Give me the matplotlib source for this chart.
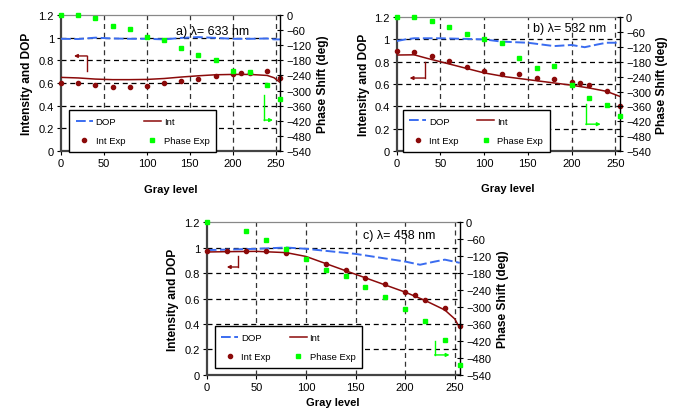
import numpy as np
import matplotlib
matplotlib.use("Agg")
import matplotlib.pyplot as plt
from matplotlib.lines import Line2D

plt.rcParams['font.family'] = ['Liberation Sans', 'DejaVu Sans']
plt.rcParams['font.size'] = 8

# Data -------------------------------------------------------------------------
gray_exp = [0, 20, 40, 60, 80, 100, 120, 140, 160, 180, 200, 210, 220, 240, 255]
gray_phase = [0, 20, 40, 60, 80, 100, 120, 140, 160, 180, 200, 220, 240, 255]

# a) 633 nm
a_int_exp = [0.60, 0.60, 0.58, 0.565, 0.565, 0.575, 0.60, 0.62, 0.64, 0.66,
             0.68, 0.69, 0.69, 0.705, 0.647]
a_phase_exp = [0, 0, -12, -45, -54, -88, -98, -132, -158, -180, -222, -227,
               -277, -335]
a_gray_fit = [0, 20, 40, 60, 80, 100, 120, 140, 160, 180, 200, 220, 240, 248,
              255]
a_int_fit = [0.65, 0.645, 0.635, 0.63, 0.63, 0.632, 0.64, 0.653, 0.664, 0.673,
             0.676, 0.676, 0.667, 0.647, 0.606]
a_dop = [0.99, 0.988, 1.0, 0.993, 0.99, 0.99, 0.985, 0.998, 1.005, 0.998,
         0.99, 0.99, 0.993, 0.985, 0.985]

# b) 532 nm
b_int_exp = [0.893, 0.884, 0.851, 0.806, 0.755, 0.719, 0.687, 0.687, 0.654,
             0.648, 0.621, 0.606, 0.588, 0.54, 0.40]
b_phase_exp = [0, 0, -17, -39, -70, -87, -105, -164, -204, -199, -274, -327,
               -353, -399]
b_gray_fit = [0, 20, 35, 50, 75, 100, 125, 150, 175, 200, 220, 240, 255]
b_int_fit = [0.86, 0.862, 0.83, 0.80, 0.75, 0.70, 0.665, 0.64, 0.615, 0.59,
             0.565, 0.535, 0.49]
b_gray_dop = [0, 10, 20, 35, 50, 75, 100, 120, 150, 170, 180, 200, 215, 230,
              240, 255]
b_dop = [0.985, 1.0, 1.01, 1.01, 1.01, 1.005, 1.0, 0.98, 0.97, 0.95, 0.94,
         0.95, 0.93, 0.955, 0.97, 0.97]

# c) 458 nm
c_int_exp = [0.975, 0.975, 0.975, 0.975, 0.956, None, 0.867, 0.823, 0.76,
             0.71, 0.65, 0.626, 0.592, 0.527, 0.388]
c_phase_exp = [0, None, -30, -64, -95, -130, -169, -190, -228, -265, -307,
               -350, -417, -504]
c_gray_fit = [0, 25, 50, 80, 100, 125, 150, 175, 200, 220, 240, 250, 255]
c_int_fit = [0.965, 0.968, 0.97, 0.96, 0.93, 0.86, 0.79, 0.72, 0.65, 0.585,
             0.51, 0.44, 0.37]
c_gray_dop = [0, 25, 50, 80, 100, 125, 150, 175, 200, 215, 230, 240, 255]
c_dop = [0.98, 0.985, 0.99, 1.0, 0.99, 0.97, 0.95, 0.92, 0.89, 0.865, 0.89,
         0.905, 0.88]

labels = ["a) \u03bb= 633 nm", "b) \u03bb= 532 nm", "c) \u03bb= 458 nm"]

# Colours / styles -------------------------------------------------------------
C_DOP = '#3a6cf0'
C_INT = '#8b0a0a'
C_PH = '#00ff00'
DOP_DASH = (5, 1.8)

fig = plt.figure(figsize=(6.78, 4.10), dpi=100)


def draw_panel(rect, gray_fit, int_fit, gray_dop, dop, int_exp, phase_exp,
               label, label_pos, leg_xy, lab_xy, arr_int, arr_ph):
    ax = fig.add_axes(rect)
    ax.set_xlim(0, 255)
    ax.set_ylim(0, 1.2)
    ax.set_xticks(range(0, 251, 50))
    yt = np.round(np.arange(0, 1.21, 0.2), 1)
    ax.set_yticks(yt)
    ax.set_yticklabels([f"{v:g}" for v in yt])
    for x in range(50, 251, 50):
        ax.axvline(x, color='#333333', lw=0.9, ls=(0, (4, 3)), zorder=1)
    for y in [0.2, 0.4, 0.6, 0.8, 1.0]:
        ax.axhline(y, color='black', lw=0.9, ls=(0, (4, 3)), zorder=1)
    ax.spines['left'].set_color('#444444')
    ax.spines['left'].set_linewidth(1.6)
    ax.spines['bottom'].set_color('#444444')
    ax.spines['bottom'].set_linewidth(1.6)
    ax.spines['top'].set_color('#888888')
    ax.spines['top'].set_linewidth(0.9)
    ax.spines['right'].set_visible(False)
    ax.tick_params(direction='out', length=3, width=0.8, pad=2)

    ax.plot(gray_dop, dop, color=C_DOP, lw=1.4, dashes=DOP_DASH, zorder=3)
    ax.plot(gray_fit, int_fit, color=C_INT, lw=1.1, zorder=3)
    ge = [g for g, v in zip(gray_exp, int_exp) if v is not None]
    ie = [v for v in int_exp if v is not None]
    ax.plot(ge, ie, 'o', color=C_INT, ms=3, zorder=4, clip_on=False)
    ax.set_xlabel("Gray level", fontweight='bold', fontsize=8)
    ax.set_ylabel("Intensity and DOP", fontweight='bold', fontsize=8.6)
    ax.xaxis.set_label_coords(0.5, lab_xy[2])
    ax.xaxis.label.set_va('center')
    ax.yaxis.set_label_coords(lab_xy[0], 0.5)
    ax.yaxis.label.set_va('center')
    ax.text(label_pos[0], label_pos[1], label, transform=ax.transAxes,
            fontsize=9, va='center', ha='left', zorder=5)

    ax2 = ax.twinx()
    ax2.set_ylim(-540, 0)
    ax2.set_yticks(range(-540, 1, 60))
    for s in ['left', 'bottom', 'top']:
        ax2.spines[s].set_visible(False)
    ax2.spines['right'].set_color('black')
    ax2.spines['right'].set_linewidth(1.0)
    ax2.tick_params(direction='inout', length=5, width=0.8, pad=2)
    gp = [g for g, v in zip(gray_phase, phase_exp) if v is not None]
    pe = [v for v in phase_exp if v is not None]
    ax2.plot(gp, pe, 's', color=C_PH, ms=3.2, zorder=4, clip_on=False)
    ax2.set_ylabel("Phase Shift (deg)", fontweight='bold', fontsize=8.6)
    ax2.yaxis.set_label_coords(lab_xy[1], 0.5)
    ax2.yaxis.label.set_va('center')

    # arrows pointing to the axes used
    for (xa, y0, y1, xe), col in [(arr_int, C_INT), (arr_ph, C_PH)]:
        ax.plot([xa, xa], [y0, y1], color=col, lw=1, transform=ax.transAxes,
                zorder=5)
        ax.annotate("", xy=(xe, y1), xytext=(xa, y1),
                    xycoords='axes fraction',
                    arrowprops=dict(arrowstyle='-|>', color=col, lw=1,
                                    mutation_scale=5, shrinkA=0, shrinkB=0))

    handles = [Line2D([], [], color=C_DOP, lw=1.4, dashes=DOP_DASH),
               Line2D([], [], marker='o', ls='none', color=C_INT, ms=3),
               Line2D([], [], color=C_INT, lw=1.1),
               Line2D([], [], marker='s', ls='none', color=C_PH, ms=3.2)]
    names = ["DOP", "Int Exp", "Int", "Phase Exp"]
    leg = ax2.legend(handles, names, ncol=2, loc='lower left',
                     bbox_to_anchor=leg_xy, fancybox=False,
                     framealpha=1, edgecolor='black', fontsize=6.8,
                     handlelength=1.8, handletextpad=0.3, borderpad=0.7,
                     labelspacing=1.1, columnspacing=2.0, borderaxespad=0)
    leg.get_frame().set_linewidth(1.0)
    leg.set_zorder(10)
    return ax, ax2


draw_panel([0.090, 0.629, 0.323, 0.332], a_gray_fit, a_int_fit, a_gray_fit,
           a_dop, a_int_exp, a_phase_exp, labels[0], (0.525, 0.882),
           (0.037, -0.007), (-0.155, 1.195, -0.275),
           (0.119, 0.588, 0.699, 0.059), (0.927, 0.412, 0.228, 0.968))
draw_panel([0.585, 0.629, 0.329, 0.327], b_gray_fit, b_int_fit, b_gray_dop,
           b_dop, b_int_exp, b_phase_exp, labels[1], (0.61, 0.918),
           (0.027, -0.005), (-0.145, 1.19, -0.275),
           (0.126, 0.664, 0.545, 0.058), (0.848, 0.351, 0.201, 0.915))
draw_panel([0.305, 0.083, 0.373, 0.373], c_gray_fit, c_int_fit, c_gray_dop,
           c_dop, c_int_exp, c_phase_exp, labels[2], (0.617, 0.915),
           (0.032, 0.046), (-0.135, 1.17, -0.18),
           (0.123, 0.778, 0.706, 0.079), (0.901, 0.222, 0.131, 0.96))

fig.savefig("out.png", dpi=100)
